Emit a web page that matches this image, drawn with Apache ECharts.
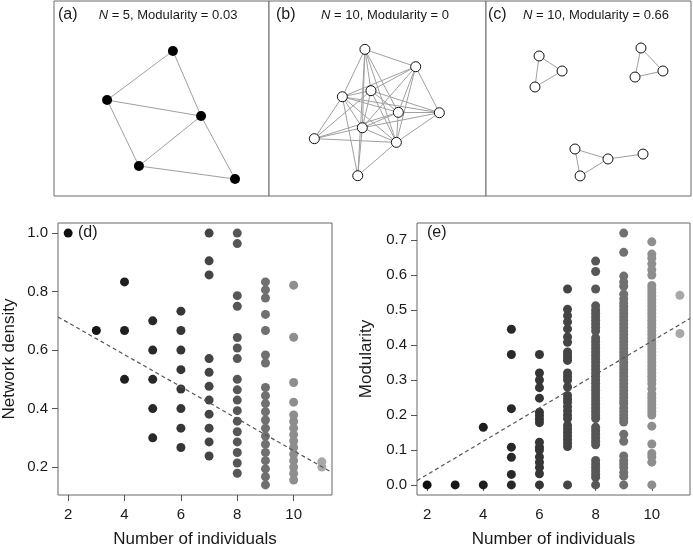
<!DOCTYPE html>
<html><head><meta charset="utf-8">
<script src="https://cdn.jsdelivr.net/npm/echarts@6/dist/echarts.min.js"></script>
<style>html,body{margin:0;padding:0;background:#fff}#c{width:693px;height:550px}</style>
</head><body><div id="c"></div>
<script>
// ---------- panel (a)-(c) example networks (layout units 0..100) ----------
const nodesA = [[55.3,74.4],[24.7,49.2],[68.4,41.0],[39.5,15.4],[84.2,8.7]];
const edgesA = [[0,1],[0,2],[1,2],[1,3],[3,2],[3,4],[2,4]];
const nodesB = [[44.2,75.2],[67.6,66.3],[47.0,54.0],[33.8,50.9],[59.6,42.9],[78.5,42.7],[43.0,35.0],[20.9,29.4],[58.7,27.5],[40.9,10.4]];
const edgesB = [[0,1],[0,3],[0,2],[0,6],[0,4],[0,8],[1,3],[1,2],[1,6],[1,4],[1,5],[1,8],[2,3],[2,4],[2,5],[2,8],[2,6],[2,7],[3,4],[3,5],[3,6],[3,7],[3,8],[3,9],[4,5],[4,6],[4,7],[4,8],[5,6],[5,8],[6,7],[6,8],[6,9],[7,8],[8,9],[0,9]];
const nodesC = [[25.9,71.8],[37.1,64.1],[23.9,55.9],[75.6,75.9],[86.3,64.1],[72.7,61.0],[43.4,24.1],[59.5,19.0],[76.6,21.5],[45.9,10.3]];
const edgesC = [[0,1],[1,2],[0,2],[3,5],[5,4],[3,4],[6,7],[6,9],[9,7],[7,8]];
const panelTags = ['(a)','(b)','(c)'];
const panelNs = [5,10,10];
const panelMods = ['0.03','0','0.66'];

// ---------- panels (d),(e) ----------
const groupN = [2,3,4,5,6,7,8,9,10,11];
const groupColors = ['#101010','#171717','#1f1f1f','#282828','#363636','#444444','#575757','#707070','#8e8e8e','#a8a8a8'];
const density = [
  [1.0],
  [0.667],
  [0.833,0.667,0.5],
  [0.7,0.6,0.5,0.4,0.3],
  [0.733,0.667,0.6,0.533,0.467,0.4,0.333,0.267],
  [1.0,0.905,0.857,0.571,0.524,0.476,0.429,0.381,0.333,0.286,0.238],
  [1.0,0.964,0.786,0.75,0.643,0.607,0.571,0.5,0.464,0.429,0.393,0.357,0.321,0.286,0.25,0.214,0.179],
  [0.833,0.806,0.778,0.722,0.667,0.583,0.556,0.472,0.444,0.417,0.389,0.361,0.333,0.306,0.278,0.25,0.222,0.194,0.167,0.139],
  [0.822,0.644,0.489,0.422,0.378,0.356,0.333,0.311,0.289,0.267,0.244,0.222,0.2,0.178,0.156],
  [0.218,0.2]
];
const modularity = [
  [0],
  [0],
  [0.165,0],
  [0.445,0.373,0.218,0.108,0.079,0.03,0],
  [0.373,0.32,0.3,0.278,0.248,0.208,0.198,0.188,0.178,0.122,0.108,0.1,0.08,0.065,0.05,0.032,0],
  [0.56,0.502,0.484,0.466,0.446,0.423,0.408,0.38,0.372,0.364,0.356,0.32,0.31,0.3,0.28,0.256,0.246,0.236,0.224,0.212,0.2,0.19,0.17,0.16,0.15,0.14,0.13,0.12,0.11,0],
  [0.64,0.61,0.56,0.512,0.5,0.49,0.48,0.47,0.46,0.45,0.44,0.42,0.41,0.4,0.39,0.38,0.37,0.36,0.35,0.34,0.33,0.32,0.31,0.3,0.29,0.28,0.27,0.26,0.25,0.24,0.23,0.22,0.21,0.2,0.19,0.165,0.155,0.145,0.135,0.125,0.115,0.07,0.06,0.05,0.04,0.03,0.022,0],
  [0.72,0.665,0.597,0.58,0.568,0.545,0.532,0.52,0.51,0.5,0.49,0.48,0.47,0.46,0.45,0.44,0.43,0.42,0.41,0.4,0.39,0.38,0.37,0.36,0.35,0.34,0.33,0.32,0.31,0.3,0.29,0.28,0.27,0.26,0.25,0.24,0.232,0.22,0.21,0.2,0.19,0.18,0.145,0.125,0.083,0.07,0.06,0.05,0.036,0.025,0],
  [0.695,0.66,0.648,0.632,0.615,0.6,0.57,0.56,0.55,0.54,0.53,0.52,0.51,0.5,0.49,0.48,0.47,0.46,0.45,0.44,0.43,0.42,0.41,0.4,0.39,0.38,0.37,0.36,0.35,0.34,0.33,0.32,0.31,0.3,0.289,0.275,0.26,0.25,0.24,0.23,0.22,0.21,0.2,0.168,0.117,0.09,0.08,0.065,0],
  [0.542,0.433]
];
const densityFit = [0.803, -0.0547];     // intercept, slope
const modularityFit = [-0.066, 0.0477];
const xTicks = [2,4,6,8,10];
const yTicksD = [0.2,0.4,0.6,0.8,1.0];
const yTicksE = [0,0.1,0.2,0.3,0.4,0.5,0.6,0.7];
const xRange = [1.64, 11.36];
const yRangeD = [0.1046, 1.0344];
const yRangeE = [-0.0288, 0.7488];

const FONT = 'Liberation Sans, Arial, sans-serif';
const chart = echarts.init(document.getElementById('c'), null, {renderer:'canvas'});

const topGrids = [
  {left:54, top:1, width:215, height:195},
  {left:269, top:1, width:217, height:195},
  {left:486, top:1, width:205, height:195}
];
const grids = topGrids.map(g => Object.assign({show:true, borderColor:'#6a6a6a', borderWidth:1, backgroundColor:'#fff'}, g));
grids.push({left:57, top:223, width:275, height:272, show:true, borderColor:'#666', borderWidth:1});
grids.push({left:417, top:223, width:273, height:272, show:true, borderColor:'#666', borderWidth:1});

const xAxes = [], yAxes = [];
for (let i=0;i<3;i++){
  xAxes.push({gridIndex:i, type:'value', min:0, max:100, show:false});
  yAxes.push({gridIndex:i, type:'value', min:0, max:100, show:false});
}
function valAxisX(gi){
  return {gridIndex:gi, type:'value', min:xRange[0], max:xRange[1],
    name:'Number of individuals', nameLocation:'middle', nameGap:36,
    nameTextStyle:{fontFamily:FONT, fontSize:17, color:'#1a1a1a'},
    axisLine:{show:false}, splitLine:{show:false},
    axisTick:{show:true, length:6, lineStyle:{color:'#555'}, customValues:xTicks},
    axisLabel:{fontFamily:FONT, fontSize:15, color:'#1a1a1a', margin:12, customValues:xTicks, formatter:v=>String(v)}};
}
function valAxisY(gi, rng, ticks, name, gap){
  return {gridIndex:gi, type:'value', min:rng[0], max:rng[1],
    name:name, nameLocation:'middle', nameGap:gap, nameRotate:90,
    nameTextStyle:{fontFamily:FONT, fontSize:17, color:'#1a1a1a'},
    axisLine:{show:false}, splitLine:{show:false},
    axisTick:{show:true, length:6, lineStyle:{color:'#555'}, customValues:ticks},
    axisLabel:{fontFamily:FONT, fontSize:15, color:'#1a1a1a', margin:10, customValues:ticks, formatter:v=>v.toFixed(1)}};
}
xAxes.push(valAxisX(3)); xAxes.push(valAxisX(4));
yAxes.push(valAxisY(3, yRangeD, yTicksD, 'Network density', 40));
yAxes.push(valAxisY(4, yRangeE, yTicksE, 'Modularity', 42));

const series = [];
function netSeries(idx, nodes, edges, filled){
  series.push({
    type:'graph', coordinateSystem:'cartesian2d', xAxisIndex:idx, yAxisIndex:idx,
    silent:true, symbol:'circle', symbolSize: 10,
    data: nodes.map(p=>({value:p})),
    links: edges.map(e=>({source:e[0], target:e[1]})),
    lineStyle:{color:'#a0a0a0', width:1, opacity:1, curveness:0},
    itemStyle: filled ? {color:'#000', borderColor:'#000', borderWidth:0}
                      : {color:'#fff', borderColor:'#111', borderWidth:1},
    label:{show:false}, z:3
  });
}
netSeries(0, nodesA, edgesA, true);
netSeries(1, nodesB, edgesB, false);
netSeries(2, nodesC, edgesC, false);

function scatterGroups(axisIdx, groups){
  groups.forEach((vals, k) => {
    series.push({type:'scatter', xAxisIndex:axisIdx, yAxisIndex:axisIdx, silent:true,
      symbolSize:9, itemStyle:{color:groupColors[k], opacity:1},
      data: vals.map(v => [groupN[k], v]), z:2});
  });
}
scatterGroups(3, density);
scatterGroups(4, modularity);

function fitLine(axisIdx, fit){
  series.push({type:'line', xAxisIndex:axisIdx, yAxisIndex:axisIdx, silent:true, symbol:'none',
    data: xRange.map(x => [x, fit[0] + fit[1]*x]),
    lineStyle:{color:'#555', width:1.2, type:[4,3]}, z:4});
}
fitLine(3, densityFit);
fitLine(4, modularityFit);

const tagLefts = [58, 276, 488];
const textCenters = [168, 385, 596];
const titles = [];
for (let i=0;i<3;i++){
  titles.push({text:panelTags[i], left:tagLefts[i], top:7, padding:0,
    textStyle:{fontFamily:FONT, fontSize:16, fontWeight:'normal', color:'#1a1a1a'}});
  titles.push({text:'{i|N} = '+panelNs[i]+', Modularity = '+panelMods[i], left:textCenters[i], top:9, padding:0, textAlign:'center',
    textStyle:{fontFamily:FONT, fontSize:13, fontWeight:'normal', color:'#1a1a1a',
      rich:{i:{fontFamily:FONT, fontSize:13, fontStyle:'italic', color:'#1a1a1a'}}}});
}
titles.push({text:'(d)', left:78, top:225, padding:0, textStyle:{fontFamily:FONT, fontSize:16, fontWeight:'normal', color:'#1a1a1a'}});
titles.push({text:'(e)', left:427, top:225, padding:0, textStyle:{fontFamily:FONT, fontSize:16, fontWeight:'normal', color:'#1a1a1a'}});

chart.setOption({
  animation:false, backgroundColor:'#fff',
  title: titles, grid: grids, xAxis: xAxes, yAxis: yAxes, series: series
});
</script></body></html>
